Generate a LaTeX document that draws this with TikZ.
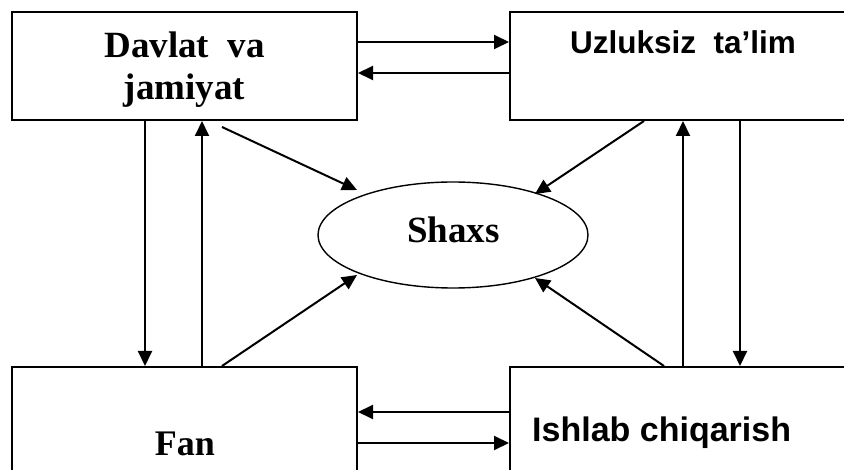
\documentclass[tikz,border=0pt]{standalone}
\usepackage{fontspec}
\setmainfont{Liberation Serif}
\setsansfont{Liberation Sans}
\usetikzlibrary{shapes.geometric,arrows.meta}
\begin{document}
\begin{tikzpicture}[x=1pt,y=-1pt,
  box/.style={draw,line width=2pt,rectangle,inner sep=0pt},
  arr/.style={line width=2pt,-{Triangle[length=15pt,width=14pt]}},
  lbl/.style={inner sep=0pt,anchor=base},
  serifbig/.style={font=\fontsize{37}{42}\selectfont\bfseries},
  fanfont/.style={font=\fontsize{36}{42}\selectfont\bfseries},
  sansA/.style={font=\sffamily\fontsize{31.5}{38}\selectfont\bfseries},
  sansB/.style={font=\sffamily\fontsize{34}{40}\selectfont\bfseries}]
\useasboundingbox (0,0) rectangle (844,470);
\clip (0,0) rectangle (844,470);
\fill[white] (0,0) rectangle (844,470);
% boxes
\node[box,minimum width=345pt,minimum height=108pt] (dj) at (184.5,66) {};
\node[box,minimum width=344pt,minimum height=108pt] (ut) at (682,66) {};
\node[box,minimum width=345pt,minimum height=120pt] (fan) at (184.5,427) {};
\node[box,minimum width=344pt,minimum height=120pt] (ic) at (682,427) {};
\node[draw,ellipse,line width=1.4pt,minimum width=270pt,minimum height=106pt,inner sep=0pt] (shaxs) at (453,235) {};
% texts
\node[lbl,serifbig] (t1) at (184.5,58) {Davlat\ \ va};
\node[lbl,serifbig] (t2) at (184.5,100) {jamiyat};
\node[lbl,sansA,anchor=base west] (t3) at (570,54) {Uzluksiz\ \ ta’lim};
\node[lbl,fanfont] (t4) at (185,456) {Fan};
\node[lbl,sansB,anchor=base west] (t5) at (532,442) {Ishlab chiqarish};
\node[lbl,serifbig] (t6) at (453.5,243) {Shaxs};
% horizontal arrows
\draw[arr] ([yshift=-31pt]dj.north east) -- ([yshift=-31pt]ut.north west);
\draw[arr] ([yshift=-62pt]ut.north west) -- ([yshift=-62pt]dj.north east);
\draw[arr] ([yshift=-46pt]ic.north west) -- ([yshift=-46pt]fan.north east);
\draw[arr] ([yshift=-77pt]fan.north east) -- ([yshift=-77pt]ic.north west);
% vertical arrows
\draw[arr] ([xshift=134pt]dj.south west) -- ([xshift=134pt]fan.north west);
\draw[arr] ([xshift=191pt]fan.north west) -- ([xshift=191pt]dj.south west);
\draw[arr] ([xshift=174pt]ic.north west) -- ([xshift=174pt]ut.south west);
\draw[arr] ([xshift=231pt]ut.south west) -- ([xshift=231pt]ic.north west);
% diagonal arrows to Shaxs
\draw[arr] ([xshift=211pt,yshift=-6pt]dj.south west) -- ([xshift=-96pt,yshift=45pt]shaxs.center);
\draw[arr] ([xshift=135pt]ut.south west) -- ([xshift=82pt,yshift=41pt]shaxs.center);
\draw[arr] ([xshift=211pt]fan.north west) -- ([xshift=-96pt,yshift=-40pt]shaxs.center);
\draw[arr] ([xshift=155pt]ic.north west) -- ([xshift=82pt,yshift=-43pt]shaxs.center);
\end{tikzpicture}
\end{document}
